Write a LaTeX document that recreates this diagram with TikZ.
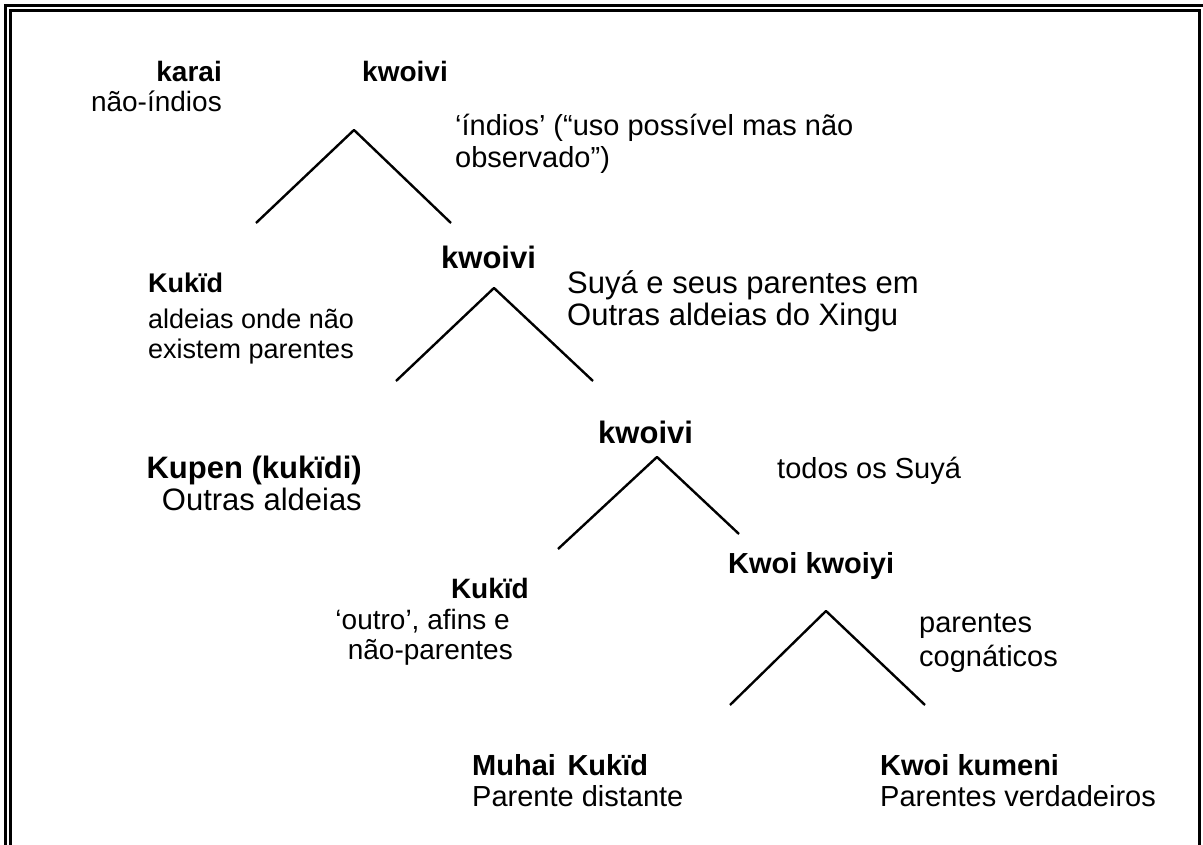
\documentclass[tikz,border=0pt]{standalone}
\usepackage{fontspec}
\setmainfont{Liberation Sans}
\begin{document}
\begin{tikzpicture}[x=1pt,y=-1pt,
  lbl/.style={font=\fontsize{#1}{#1}\selectfont, inner sep=0pt},
  lbl/.default=28,
  blbl/.style={font=\fontsize{#1}{#1}\selectfont\bfseries, inner sep=0pt},
  blbl/.default=28,
  branch/.style={line width=2.4pt, line join=round, line cap=butt},
  frameout/.style={line width=3pt},
  framein/.style={line width=2.5pt}]
\useasboundingbox (0,0) rectangle (1203,845);
% frame
\draw[frameout] (5.5,845) -- (5.5,5.5) -- (1203,5.5);
\draw[framein] (10.5,845) -- (10.5,10.5) -- (1199.5,10.5) -- (1199.5,845);

% level 1
\node[blbl=28, anchor=base east] (karai) at (222,82) {karai};
\node[lbl=28, anchor=base east] (naoindios) at (222,112) {não-índios};
\node[blbl=28, anchor=base west] (kw1) at (362,82) {kwoivi};
\node[lbl=29, anchor=base west] (ind1) at (455,136) {‘índios’ (“uso possível mas não};
\node[lbl=29, anchor=base west] (ind2) at (455,168) {observado”)};
\coordinate (a1) at (354,130);
\coordinate (l1) at (256,223);
\coordinate (r1) at (451,223);
\draw[branch] (l1) -- (a1) -- (r1);

% level 2
\node[blbl=31, anchor=base west] (kw2) at (441,269) {kwoivi};
\node[blbl=27, anchor=base west] (kuk1) at (148,293) {Kukïd};
\node[lbl=27, anchor=base west] (ald1) at (148,329) {aldeias onde não};
\node[lbl=27, anchor=base west] (ald2) at (148,359) {existem parentes};
\node[lbl=31, anchor=base west] (suya1) at (567,294) {Suyá e seus parentes em};
\node[lbl=31, anchor=base west] (suya2) at (567,326) {Outras aldeias do Xingu};
\coordinate (a2) at (494,288);
\coordinate (l2) at (396,381);
\coordinate (r2) at (593,381);
\draw[branch] (l2) -- (a2) -- (r2);

% level 3
\node[blbl=31, anchor=base west] (kw3) at (598,443) {kwoivi};
\node[blbl=31, anchor=base east] (kupen) at (362,478) {Kupen (kukïdi)};
\node[lbl=31, anchor=base east] (outras) at (362,510) {Outras aldeias};
\node[lbl=29, anchor=base west] (todos) at (777,478) {todos os Suyá};
\coordinate (a3) at (657,457);
\coordinate (l3) at (558,549);
\coordinate (r3) at (739,534);
\draw[branch] (l3) -- (a3) -- (r3);

% level 4
\node[blbl=29, anchor=base west] (kwkw) at (728,573) {Kwoi kwoiyi};
\node[blbl=28, anchor=base east] (kuk2) at (529,598) {Kukïd};
\node[lbl=28, anchor=base east] (outro1) at (510,629) {‘outro’, afins e};
\node[lbl=28, anchor=base east] (outro2) at (513,659) {não-parentes};
\node[lbl=29, anchor=base west] (par1) at (919,632) {parentes};
\node[lbl=29, anchor=base west] (par2) at (919,666) {cognáticos};
\coordinate (a4) at (826,611);
\coordinate (l4) at (730,705);
\coordinate (r4) at (925,705);
\draw[branch] (l4) -- (a4) -- (r4);

% leaves
\node[blbl=29, anchor=base west] (muhai) at (472,775) {Muhai\hspace{0.4em}Kukïd};
\node[lbl=29, anchor=base west] (pdist) at (472,806) {Parente distante};
\node[blbl=29, anchor=base west] (kwkum) at (880,775) {Kwoi kumeni};
\node[lbl=29, anchor=base west] (pverd) at (880,806) {Parentes verdadeiros};
\end{tikzpicture}
\end{document}
